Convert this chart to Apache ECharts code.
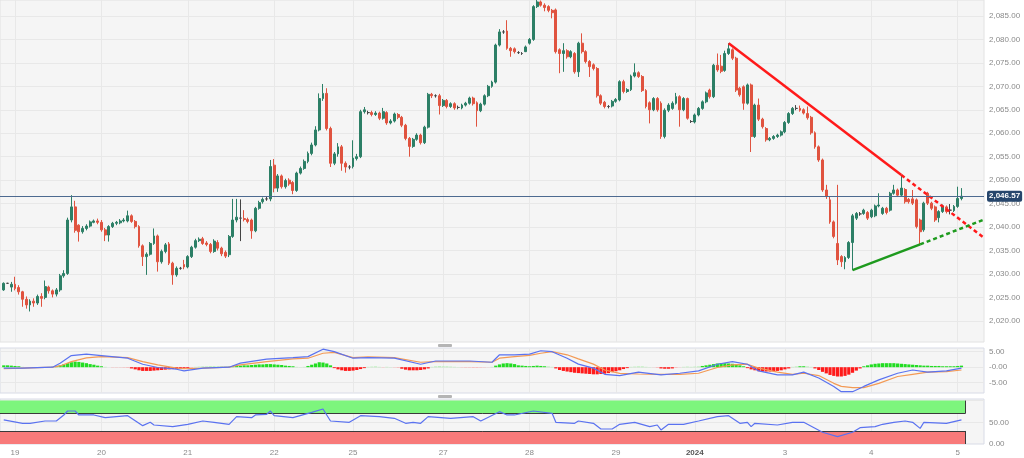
<!DOCTYPE html>
<html><head><meta charset="utf-8">
<script src="https://cdn.jsdelivr.net/npm/echarts@6/dist/echarts.min.js"></script>
<style>html,body{margin:0;padding:0;background:#ffffff;}#c{width:1024px;height:458px;}</style>
</head><body><div id="c"></div>
<script>
// ---- data (hourly XAU/USD candles: [open, close, low, high]) ----
const candles = [
[2026.6,2028.0,2026.4,2028.2],[2028.0,2028.0,2027.9,2028.1],[2027.2,2027.8,2026.2,2028.3],[2027.8,2026.9,2026.5,2029.4],
[2027.1,2026.2,2025.6,2027.6],[2026.2,2024.6,2023.0,2026.4],[2024.6,2023.4,2022.6,2025.2],[2023.4,2024.2,2022.0,2024.6],
[2024.2,2023.8,2023.0,2024.8],[2023.8,2025.2,2023.4,2025.6],[2025.2,2024.8,2023.0,2025.9],[2025.0,2027.3,2024.6,2028.6],
[2027.2,2026.4,2025.8,2027.5],[2026.4,2025.7,2025.0,2026.7],[2025.7,2026.6,2025.2,2027.0],[2026.6,2029.6,2026.2,2030.0],
[2029.6,2030.1,2029.2,2030.8],[2030.1,2041.5,2029.8,2042.0],[2041.5,2044.3,2041.0,2046.8],[2044.3,2039.3,2038.8,2045.6],
[2040.4,2039.0,2036.9,2040.6],[2039.0,2039.7,2038.6,2040.2],[2039.7,2040.2,2039.3,2040.6],[2040.2,2041.1,2039.9,2041.4],
[2041.0,2041.3,2040.8,2041.6],[2041.3,2041.0,2040.6,2041.8],[2041.0,2039.4,2039.0,2041.5],[2039.4,2038.3,2037.0,2039.8],
[2038.3,2040.1,2036.9,2040.4],[2040.1,2040.8,2039.8,2041.1],[2040.8,2041.0,2040.4,2041.3],[2040.9,2041.3,2040.6,2041.7],
[2041.3,2041.5,2041.0,2041.9],[2041.3,2042.4,2041.0,2043.5],[2042.4,2041.2,2040.9,2042.7],[2041.2,2040.1,2039.7,2041.5],
[2040.1,2036.0,2035.6,2040.4],[2036.0,2033.7,2031.7,2036.3],[2033.7,2034.2,2029.8,2034.6],[2034.2,2036.5,2033.9,2036.8],
[2036.5,2038.1,2036.2,2039.7],[2038.1,2032.6,2030.5,2038.4],[2032.6,2034.8,2032.2,2035.2],[2034.8,2036.2,2034.4,2036.6],
[2036.4,2032.3,2031.9,2036.8],[2032.3,2029.8,2027.7,2032.6],[2029.8,2031.2,2029.4,2031.6],[2031.2,2031.2,2030.9,2031.5],
[2032.0,2031.5,2031.0,2033.0],[2031.5,2033.7,2031.2,2034.0],[2033.7,2035.7,2033.4,2036.0],[2035.7,2037.1,2035.4,2037.5],
[2037.1,2037.4,2036.8,2037.8],[2037.5,2036.5,2036.2,2037.9],[2036.6,2036.3,2035.9,2037.0],[2036.3,2034.8,2034.4,2036.6],
[2034.8,2037.0,2034.5,2037.4],[2036.7,2035.5,2035.0,2037.2],[2035.5,2034.3,2033.8,2035.8],[2034.6,2033.8,2033.4,2035.0],
[2034.1,2038.0,2033.6,2038.3],[2038.0,2041.5,2037.7,2046.0],[2041.5,2042.1,2041.0,2046.0],[2041.9,2041.9,2037.0,2045.9],
[2041.8,2041.6,2041.2,2043.6],[2041.6,2041.2,2040.8,2042.0],[2041.5,2039.2,2037.5,2041.8],[2039.2,2044.0,2038.9,2044.3],
[2044.0,2045.2,2043.7,2045.6],[2045.4,2045.9,2045.0,2046.3],[2046.0,2046.0,2045.6,2046.4],[2046.0,2052.9,2045.5,2054.3],
[2053.2,2048.3,2047.4,2054.5],[2048.3,2050.9,2047.5,2051.3],[2050.9,2048.6,2048.2,2051.2],[2048.6,2049.9,2048.2,2050.3],
[2050.0,2049.2,2048.8,2050.4],[2049.5,2047.8,2047.0,2049.8],[2047.8,2051.5,2047.5,2051.8],[2051.5,2052.5,2051.2,2052.9],
[2052.5,2054.0,2052.2,2054.4],[2054.0,2055.7,2053.6,2056.1],[2055.7,2057.5,2055.3,2058.0],[2057.5,2060.7,2057.2,2061.5],
[2060.7,2067.4,2060.4,2068.5],[2067.4,2068.5,2066.9,2070.5],[2068.5,2061.0,2060.6,2069.6],[2061.0,2053.6,2052.8,2061.4],
[2053.6,2055.6,2053.2,2056.0],[2055.6,2057.1,2055.0,2057.9],[2057.1,2053.6,2052.0,2057.5],[2053.6,2052.8,2051.6,2054.0],
[2052.8,2052.8,2052.3,2053.2],[2052.9,2054.7,2052.5,2058.5],[2054.6,2055.0,2054.2,2055.6],[2055.0,2064.6,2054.7,2065.0],
[2064.6,2065.0,2064.2,2065.6],[2064.4,2064.4,2064.0,2064.8],[2064.4,2064.0,2063.6,2064.8],[2064.0,2064.3,2063.7,2064.7],
[2064.3,2063.2,2062.8,2064.6],[2063.2,2064.6,2062.9,2065.4],[2064.4,2062.2,2061.8,2064.7],[2062.2,2062.6,2061.9,2063.0],
[2062.6,2064.1,2062.3,2064.4],[2064.0,2063.4,2063.0,2064.3],[2063.4,2061.7,2061.3,2063.7],[2061.7,2058.9,2058.5,2062.0],
[2058.9,2057.2,2055.0,2059.2],[2057.2,2058.7,2056.9,2059.0],[2058.7,2059.6,2058.4,2060.0],[2059.6,2058.0,2057.6,2059.9],
[2058.0,2061.3,2057.7,2061.6],[2061.3,2068.3,2061.0,2068.6],[2068.3,2068.0,2067.5,2068.6],[2068.0,2068.0,2067.6,2068.3],
[2068.0,2065.9,2064.0,2068.4],[2065.9,2067.0,2065.6,2067.3],[2067.0,2065.7,2065.3,2067.3],[2065.7,2066.3,2065.4,2066.6],
[2066.3,2065.4,2065.0,2066.6],[2065.5,2065.5,2065.1,2065.9],[2065.4,2066.0,2065.1,2066.3],[2066.0,2066.4,2065.7,2066.7],
[2066.4,2067.5,2066.1,2067.8],[2067.5,2066.3,2065.9,2067.8],[2066.5,2064.8,2061.4,2066.8],[2064.8,2066.2,2064.5,2066.5],
[2066.2,2068.0,2065.9,2068.3],[2068.0,2070.0,2067.7,2070.3],[2070.0,2070.9,2069.7,2071.2],[2070.9,2078.8,2070.6,2079.1],
[2078.8,2081.6,2078.5,2082.2],[2081.6,2081.6,2081.2,2082.0],[2081.8,2078.1,2077.8,2084.1],[2078.1,2077.6,2076.3,2078.4],
[2078.0,2077.4,2077.0,2078.3],[2077.2,2077.2,2076.9,2077.5],[2077.0,2077.0,2076.7,2077.3],[2077.4,2078.4,2077.3,2078.7],
[2079.2,2080.0,2078.9,2080.3],[2080.0,2087.0,2079.7,2087.3],[2087.0,2088.0,2086.7,2088.4],[2088.0,2087.3,2087.0,2088.3],
[2087.3,2086.8,2086.0,2087.7],[2087.0,2086.2,2085.8,2087.3],[2086.2,2085.7,2084.5,2086.5],[2086.3,2077.4,2077.0,2086.6],
[2077.8,2077.0,2072.8,2078.1],[2077.0,2077.6,2073.1,2079.2],[2077.6,2076.3,2075.9,2077.9],[2076.3,2077.4,2076.0,2077.7],
[2077.0,2073.1,2072.7,2077.3],[2073.1,2079.2,2072.0,2079.5],[2079.2,2077.4,2077.0,2081.3],[2077.4,2075.3,2074.9,2077.7],
[2075.3,2074.2,2072.0,2075.6],[2074.6,2073.8,2073.4,2074.9],[2073.8,2068.0,2067.6,2074.1],[2068.0,2066.4,2066.0,2068.3],
[2066.6,2065.7,2065.3,2066.9],[2065.7,2065.7,2065.3,2066.0],[2065.8,2066.8,2065.5,2067.1],[2066.8,2067.2,2066.5,2067.5],
[2067.1,2071.0,2066.8,2071.3],[2071.0,2068.9,2068.5,2071.4],[2068.9,2069.3,2068.6,2069.6],[2069.3,2072.2,2069.0,2072.5],
[2072.2,2072.9,2071.9,2074.9],[2072.9,2072.1,2071.8,2073.2],[2072.1,2069.1,2068.8,2072.4],[2069.1,2065.7,2065.3,2069.4],
[2066.5,2065.0,2062.1,2066.8],[2065.0,2067.4,2064.7,2067.7],[2067.4,2065.0,2064.6,2067.7],[2066.4,2059.3,2058.8,2066.8],
[2059.3,2064.9,2058.9,2065.3],[2064.9,2066.0,2064.5,2066.4],[2065.3,2066.4,2065.0,2066.8],[2066.4,2067.8,2066.1,2068.6],
[2067.8,2065.0,2061.4,2068.1],[2065.0,2067.4,2064.7,2067.7],[2067.4,2063.2,2062.9,2067.6],[2062.5,2062.5,2062.2,2062.8],
[2062.4,2063.9,2062.1,2064.2],[2063.9,2065.3,2063.6,2065.6],[2065.3,2066.7,2065.0,2067.0],[2066.7,2068.6,2066.4,2068.9],
[2069.2,2067.8,2067.4,2069.5],[2067.8,2074.5,2067.5,2074.8],[2074.5,2073.5,2073.1,2077.0],[2074.3,2073.2,2072.8,2076.7],
[2073.4,2077.0,2073.1,2077.6],[2077.0,2078.0,2076.7,2079.2],[2077.8,2076.0,2075.6,2078.1],[2076.0,2069.2,2068.8,2076.3],
[2069.6,2068.2,2067.8,2069.9],[2069.9,2066.4,2065.0,2070.2],[2066.4,2070.3,2066.1,2070.6],[2070.3,2059.3,2056.0,2070.6],
[2059.3,2066.0,2059.0,2066.3],[2066.0,2063.0,2062.6,2067.4],[2063.0,2061.4,2061.0,2063.3],[2061.0,2058.6,2058.2,2061.3],
[2058.6,2058.9,2058.3,2059.2],[2058.9,2059.3,2058.6,2059.6],[2059.3,2059.6,2059.0,2059.9],[2059.6,2060.3,2059.3,2060.6],
[2060.3,2062.3,2060.0,2062.6],[2062.3,2064.2,2062.0,2064.5],[2064.2,2065.3,2063.9,2065.6],[2065.3,2065.3,2064.9,2066.0],
[2065.3,2064.9,2064.6,2065.9],[2065.0,2064.3,2064.0,2065.3],[2064.2,2063.3,2062.9,2065.7],[2063.4,2060.1,2059.7,2063.7],
[2060.1,2057.1,2056.7,2060.4],[2057.1,2054.3,2053.9,2057.4],[2054.3,2047.9,2047.5,2054.6],[2047.9,2046.5,2046.0,2049.0],
[2045.8,2041.1,2040.7,2046.5],[2041.1,2038.0,2037.6,2041.4],[2036.5,2033.0,2031.9,2049.0],[2033.7,2032.6,2031.5,2034.0],
[2032.6,2033.5,2031.0,2033.8],[2033.5,2036.7,2033.2,2037.0],[2036.7,2042.4,2030.8,2042.8],[2041.9,2042.9,2041.5,2043.2],
[2042.8,2042.8,2042.4,2043.2],[2042.9,2043.6,2042.6,2043.9],[2043.1,2041.9,2041.5,2043.4],[2042.2,2043.6,2041.9,2043.9],
[2042.4,2044.5,2042.1,2044.8],[2044.5,2044.7,2044.2,2047.2],[2042.9,2044.0,2042.6,2044.3],[2044.0,2043.1,2042.7,2044.3],
[2043.6,2047.2,2043.3,2047.5],[2047.2,2047.9,2046.9,2049.0],[2047.9,2046.8,2046.4,2048.2],[2046.8,2048.3,2046.5,2051.1],
[2048.0,2045.4,2045.0,2048.3],[2045.9,2045.4,2045.0,2046.2],[2046.0,2045.1,2044.7,2047.9],[2045.8,2040.1,2039.7,2046.1],
[2041.5,2039.0,2036.2,2041.8],[2039.4,2045.1,2039.0,2045.4],[2047.2,2045.1,2044.7,2047.5],[2045.1,2044.0,2043.6,2045.4],
[2044.3,2041.5,2041.1,2044.6],[2042.0,2043.3,2041.0,2043.6],[2043.3,2044.5,2043.0,2044.8],[2044.3,2043.3,2042.9,2044.6],
[2043.6,2043.6,2042.7,2044.9],[2043.5,2044.4,2043.2,2044.7],[2044.4,2046.1,2044.1,2048.6],[2046.1,2046.57,2045.7,2048.3]
];
const lastPrice = 2046.57;
// day labels and the candle index where each day starts
const dayLabels = ['19','20','21','22','25','27','28','29','2024','3','4','5'];
const dayLabelIdx = [3,26,49,72,93,117,140,163,184,208,231,254];
// trend lines: [candle index, price]
const redTrend = [[193,2079.2],[239,2051.1]];
const redTrendExt = [[239,2051.1],[261,2037.7]];
const greenTrend = [[226,2030.8],[244,2036.3]];
const greenTrendExt = [[244,2036.3],[261,2041.6]];
// MACD panel: [candle index, value]
const macdLine = [[0,-0.3],[5,-0.3],[13,0],[15,1.3],[18,3.75],[22,4.2],[26,3.75],[33,2.9],[37,0.96],[41,-0.1],[46,-0.65],[48,-1.2],[53,-0.3],[60,0],[63,1.3],[70,2.6],[77,3.1],[81,3.4],[85,5.8],[88,5.0],[93,2.9],[97,3.1],[104,2.9],[111,0.96],[115,2.0],[124,2.0],[130,1.6],[132,4.0],[136,4.0],[140,4.2],[143,5.3],[146,5.0],[150,2.9],[153,1.0],[157,-0.3],[160,-2.3],[164,-2.7],[169,-1.6],[175,-2.5],[180,-1.95],[185,-1.2],[190,0.96],[194,1.8],[198,0.96],[201,-1.2],[206,-2.5],[210,-2.5],[213,-1.6],[217,-3.5],[221,-6.2],[223,-7.9],[226,-7.9],[229,-6.2],[233,-4.1],[238,-1.95],[242,-0.9],[246,-1.6],[251,-1.2],[255,-0.3]];
const signalLine = [[0,-0.5],[5,-0.3],[13,0],[15,0.4],[18,1.8],[22,3.0],[26,3.4],[33,3.1],[37,1.8],[41,0.75],[46,-0.3],[48,-0.5],[53,-0.3],[60,0],[63,0.75],[70,1.8],[77,2.7],[81,2.9],[85,4.5],[88,4.8],[93,3.1],[97,3.3],[104,3.1],[111,1.6],[115,1.8],[124,1.8],[130,1.6],[132,2.9],[136,3.4],[140,3.8],[143,4.5],[146,5.0],[150,4.0],[153,2.7],[157,1.0],[160,-0.9],[164,-2.0],[169,-2.2],[175,-2.3],[180,-2.3],[185,-1.95],[190,-0.1],[194,0.75],[198,0.96],[201,-0.3],[206,-1.6],[210,-2.3],[213,-1.95],[217,-2.7],[221,-5.2],[223,-6.2],[226,-6.6],[229,-6.6],[233,-5.2],[238,-3.0],[242,-2.3],[246,-1.6],[251,-1.4],[255,-0.9]];
const macdHist = [
0.6,0.6,0.5,0.4,0.3,0.1,
-0.05,-0.05,-0.1,-0.1,-0.05,0.05,0.1,0.2,
0.4,0.6,0.9,1.3,1.6,1.8,1.7,1.5,1.3,1.0,0.8,0.5,0.3,
0.1,0,-0.1,-0.1,-0.1,-0.15,-0.2,
-0.4,-0.7,-1.0,-1.2,-1.2,-1.2,-1.1,-1.0,-0.9,
-0.8,-0.7,-0.6,-0.6,-0.5,-0.4,-0.3,-0.2,
0.1,0.15,0.2,0.2,0.25,0.25,0.2,0.2,0.2,0.25,0.3,
0.4,0.5,0.6,0.6,0.7,0.8,0.9,0.9,1.0,1.0,0.9,0.8,0.7,0.5,0.4,0.3,
0.1,0.05,0.1,
0.4,0.8,1.2,1.6,1.5,1.2,0.6,
-0.3,-0.7,-1.0,-1.2,-1.2,-1.1,-0.9,-0.6,-0.3,
0.1,0.15,0.2,0.1,-0.1,0.1,0.05,-0.1,-0.2,
-0.5,-0.8,-1.0,-1.0,-1.0,-0.9,-0.7,-0.4,
0.1,0.2,0.25,0.2,0.2,0.15,0.1,0.05,
-0.1,-0.15,-0.15,-0.2,-0.2,-0.15,-0.1,-0.05,0.1,
0.5,0.9,1.2,1.3,1.2,1.0,
0.6,0.5,0.4,0.3,0.4,0.5,0.4,0.3,0.2,0.1,
-0.4,-0.9,-1.2,-1.4,-1.6,-1.8,-1.9,-2.0,-2.1,-2.2,-2.3,-2.3,-2.2,-2.1,-1.9,-1.6,-1.3,-1.0,-0.6,-0.3,
0.1,0.15,0.2,0.2,0.1,0.05,-0.05,
-0.2,-0.4,-0.5,-0.5,-0.4,-0.2,-0.05,
0.1,0.15,0.1,0.15,0.2,
0.4,0.6,0.8,1.0,1.2,1.3,1.3,1.2,1.1,0.9,0.6,0.3,
-0.3,-0.7,-1.0,-1.3,-1.4,-1.4,-1.4,-1.3,-1.2,-1.0,-0.7,-0.4,
0.1,0.2,0.3,0.3,0.2,0.1,
-0.4,-0.9,-1.5,-2.0,-2.5,-2.8,-3.0,-3.0,-2.8,-2.4,-1.8,-1.1,-0.4,
0.3,0.6,0.9,1.1,1.2,1.3,1.3,1.3,1.3,1.2,1.1,1.0,0.9,0.8,0.7,
0.6,0.5,0.5,0.4,0.4,0.4,0.3,0.3,0.3,0.3,0.4,0.5
];
// RSI panel: [candle index, value]
const rsiLine = [[0,55.4],[5,47.7],[7,47.7],[11,53],[14,53],[16,66.9],[17,76],[19,76],[20,66.9],[24,66.9],[27,60.7],[33,65.3],[37,42.3],[39,50],[40,43.8],[45,40],[49,45.4],[53,53],[56,50],[60,45.4],[62,63],[66,60.7],[67,66.9],[70,68.4],[71,76],[72,65.3],[77,60.7],[82,73],[85,80.7],[87,53],[92,50],[95,65.3],[100,63],[104,59.2],[107,47.7],[109,50],[111,47.7],[113,63],[119,59.2],[125,63],[127,53],[132,74.5],[134,66.9],[136,66.9],[141,76],[146,70.7],[147,50],[152,47.7],[153,53],[157,47.7],[159,34.6],[162,34.6],[164,45.4],[168,50],[172,40],[174,43.8],[175,32.3],[177,45.4],[181,45.4],[185,53],[190,63],[193,65.3],[196,47.7],[198,50],[199,40],[200,47.7],[206,43.8],[210,50],[213,50],[218,27],[222,17],[226,27],[228,37.7],[232,40],[234,45.4],[237,50],[240,53],[242,50],[244,36],[245,50],[251,47.7],[255,55.4]];
const rsiUpper = 70, rsiLower = 30;

// ---- layout helpers ----
const OFF = 1;               // first (off-screen) slot before candle 0
const NSLOT = 263;
const slots = Array.from({length: NSLOT}, (_, i) => String(i));
const labelMap = {};
dayLabelIdx.forEach((d, k) => { labelMap[d + OFF] = dayLabels[k]; });
const isDay = (i) => labelMap[i] !== undefined;
const sh = (arr) => arr.map(p => [p[0] + OFF, p[1]]);

function fmtNum(v) {
  const s = Math.abs(v).toFixed(2); const parts = s.split('.');
  return (v < 0 ? '-' : '') + parts[0].replace(/\B(?=(\d{3})+(?!\d))/g, ',') + '.' + parts[1];
}
const UP = '#2c7f66', DOWN = '#e0533f';
const GRIDC = '#e8e8e8';
const LABC = '#8a8a8a';
const FONT = 'Liberation Sans, Arial, sans-serif';

const candleData = candles.map((c, i) => [i + OFF, c[0], c[1], c[2], c[3]]);
const histData = macdHist.map((v, i) => {
  const a = Math.abs(v);
  let col;
  if (v >= 0) col = a > 0.25 ? '#22dd22' : '#9bee9b';
  else col = a > 0.25 ? '#ff1a1a' : '#ffaaaa';
  return { value: [i + OFF, v], itemStyle: { color: col } };
});
const bandEnd = candles.length - 1 + OFF + 0.6;

function xAxisCfg(gridIndex, showLabels) {
  return {
    type: 'category', gridIndex, data: slots, boundaryGap: false,
    axisLine: { show: false }, axisTick: { show: false },
    splitLine: { show: true, interval: (i) => isDay(i), lineStyle: { color: GRIDC, width: 1 } },
    axisLabel: {
      show: showLabels, interval: (i) => isDay(i), margin: 5,
      fontSize: 8, color: LABC, fontFamily: FONT,
      formatter: (val, i) => { const t = labelMap[i] || ''; return t === '2024' ? '{b|2024}' : t; },
      rich: { b: { fontSize: 8, fontWeight: 'bold', color: '#555', fontFamily: FONT } }
    }
  };
}
function yAxisCfg(gridIndex, min, max, step, fmt, showMin) {
  return {
    type: 'value', gridIndex, position: 'right', min, max, minInterval: step, maxInterval: step,
    axisLine: { show: false }, axisTick: { show: false },
    splitLine: { show: true, showMinLine: false, showMaxLine: false, lineStyle: { color: GRIDC } },
    axisLabel: { showMinLabel: !!showMin, showMaxLabel: false, margin: 5, fontSize: 8, color: LABC, fontFamily: FONT, formatter: fmt }
  };
}

const chart = echarts.init(document.getElementById('c'), null, { renderer: 'canvas' });
chart.setOption({
  animation: false,
  backgroundColor: '#ffffff',
  grid: [
    { left: -1.76, top: 0, width: 985.76, height: 342, show: true, backgroundColor: '#f5f5f5', borderColor: '#e2e2e2', borderWidth: 1 },
    { left: -1.76, top: 348, width: 985.76, height: 45, show: true, backgroundColor: '#f5f5f5', borderColor: '#d8dbe6', borderWidth: 1 },
    { left: -1.76, top: 399, width: 985.76, height: 45, show: true, backgroundColor: '#f5f5f5', borderColor: '#d8dbe6', borderWidth: 1 }
  ],
  xAxis: [xAxisCfg(0, false), xAxisCfg(1, false), xAxisCfg(2, true)],
  yAxis: [
    yAxisCfg(0, 2015.49, 2088.41, 5, (v) => fmtNum(v), false),
    yAxisCfg(1, -8.32, 6.19, 5, (v) => Math.abs(v) < 1e-9 ? '-0.00' : fmtNum(v), false),
    yAxisCfg(2, 0, 103.7, 50, (v) => v > 99 ? '' : fmtNum(v), true)
  ],
  graphic: [
    { type: 'rect', left: 438, top: 344, shape: { width: 14, height: 3, r: 1 }, style: { fill: '#b5b5b5' } },
    { type: 'rect', left: 438, top: 395, shape: { width: 14, height: 3, r: 1 }, style: { fill: '#b5b5b5' } }
  ],
  series: [
    {
      type: 'candlestick', xAxisIndex: 0, yAxisIndex: 0, data: candleData,
      encode: { x: 0, y: [1, 2, 3, 4] }, barWidth: 2.4,
      itemStyle: { color: UP, color0: DOWN, borderColor: UP, borderColor0: DOWN, borderColorDoji: '#444', borderWidth: 1 },
      markLine: {
        silent: true, symbol: 'none', animation: false,
        lineStyle: { color: '#4d6a90', width: 1.2, type: 'solid' },
        label: {
          position: 'end', distance: 3, formatter: () => fmtNum(lastPrice),
          backgroundColor: '#26466c', color: '#ffffff', fontSize: 8, fontWeight: 'bold',
          padding: [2, 2, 1, 2], borderRadius: 2, fontFamily: FONT
        },
        data: [{ yAxis: lastPrice }]
      }
    },
    { type: 'line', xAxisIndex: 0, yAxisIndex: 0, data: sh(redTrend), symbol: 'none', lineStyle: { color: '#ff1a1a', width: 2.5 } },
    { type: 'line', xAxisIndex: 0, yAxisIndex: 0, data: sh(redTrendExt), symbol: 'none', lineStyle: { color: '#ff1a1a', width: 2.5, type: [4, 3] } },
    { type: 'line', xAxisIndex: 0, yAxisIndex: 0, data: sh(greenTrend), symbol: 'none', lineStyle: { color: '#1e9a1e', width: 2.5 } },
    { type: 'line', xAxisIndex: 0, yAxisIndex: 0, data: sh(greenTrendExt), symbol: 'none', lineStyle: { color: '#1e9a1e', width: 2.5, type: [4, 3] } },
    { type: 'bar', xAxisIndex: 1, yAxisIndex: 1, data: histData, barWidth: 3.2 },
    { type: 'line', xAxisIndex: 1, yAxisIndex: 1, data: sh(signalLine), symbol: 'none', lineStyle: { color: '#f39a55', width: 1.2 } },
    { type: 'line', xAxisIndex: 1, yAxisIndex: 1, data: sh(macdLine), symbol: 'none', lineStyle: { color: '#5a72f0', width: 1.2 } },
    {
      type: 'line', xAxisIndex: 2, yAxisIndex: 2, data: sh(rsiLine), symbol: 'none', z: 5,
      lineStyle: { color: '#5a72f0', width: 1.2 },
      markArea: {
        silent: true,
        data: [
          [{ xAxis: 0, yAxis: rsiUpper, itemStyle: { color: '#7df57d', borderWidth: 0 } }, { xAxis: bandEnd, yAxis: 100 }],
          [{ xAxis: 0, yAxis: 0, itemStyle: { color: '#f87a7a', borderWidth: 0 } }, { xAxis: bandEnd, yAxis: rsiLower }]
        ]
      },
      markLine: {
        silent: true, symbol: 'none', label: { show: false },
        lineStyle: { color: '#3a3a3a', width: 1, type: 'solid' },
        data: [
          [{ coord: [0, rsiUpper] }, { coord: [bandEnd, rsiUpper] }],
          [{ coord: [0, rsiLower] }, { coord: [bandEnd, rsiLower] }],
          [{ coord: [bandEnd, rsiUpper] }, { coord: [bandEnd, 100] }],
          [{ coord: [bandEnd, 0] }, { coord: [bandEnd, rsiLower] }]
        ]
      }
    }
  ]
});
</script></body></html>
